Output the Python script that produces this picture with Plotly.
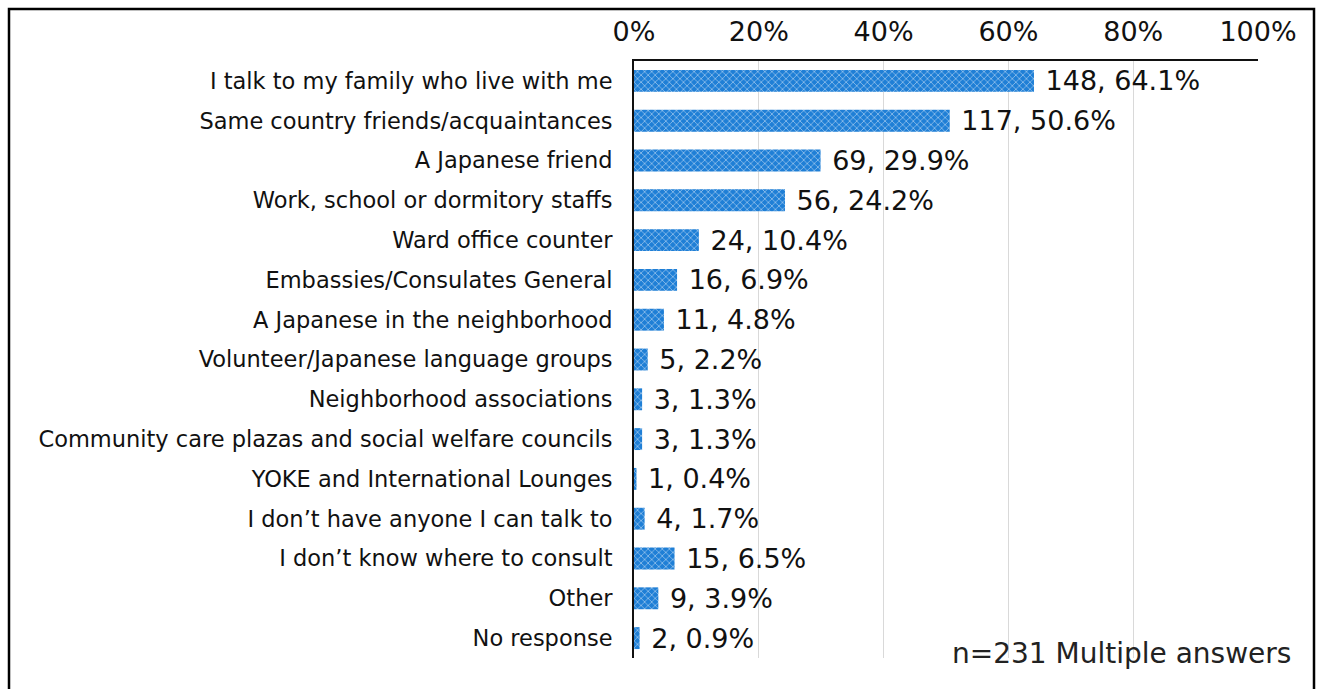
import plotly.graph_objects as go

categories = [
    "I talk to my family who live with me",
    "Same country friends/acquaintances",
    "A Japanese friend",
    "Work, school or dormitory staffs",
    "Ward office counter",
    "Embassies/Consulates General",
    "A Japanese in the neighborhood",
    "Volunteer/Japanese language groups",
    "Neighborhood associations",
    "Community care plazas and social welfare councils",
    "YOKE and International Lounges",
    "I don\u2019t have anyone I can talk to",
    "I don\u2019t know where to consult",
    "Other",
    "No response",
]
counts = [148, 117, 69, 56, 24, 16, 11, 5, 3, 3, 1, 4, 15, 9, 2]
percents = [64.1, 50.6, 29.9, 24.2, 10.4, 6.9, 4.8, 2.2, 1.3, 1.3, 0.4, 1.7, 6.5, 3.9, 0.9]
tick_vals = [0, 20, 40, 60, 80, 100]
tick_text = ["0%", "20%", "40%", "60%", "80%", "100%"]
note = "n=231 Multiple answers"

labels = [f"\u00a0{c}, {p}%" for c, p in zip(counts, percents)]
FONT = "DejaVu Sans"

fig = go.Figure(go.Bar(
    y=categories, x=percents, orientation="h",
    text=labels, textposition="outside", cliponaxis=False, constraintext="none",
    textfont=dict(family=FONT, size=27, color="#111111"),
    marker=dict(
        color="#1f7fd6",
        line=dict(width=0),
        pattern=dict(shape="x", fgcolor="#ffffff", bgcolor="#1f7fd6", size=5, solidity=0.3),
    ),
))

W, H = 1317, 689
L, R, T, B = 634, 59, 61, 31
pw, ph = W - L - R, H - T - B

def px2x(px):
    return (px - L) / pw

def py2y(py):
    return (H - B - py) / ph

fig.update_layout(
    width=W, height=H,
    margin=dict(l=L, r=R, t=T, b=B),
    paper_bgcolor="white", plot_bgcolor="white",
    bargap=0.45, showlegend=False,
    font=dict(family=FONT, color="#111111"),
    xaxis=dict(
        range=[0, 100], side="top", tickvals=tick_vals, ticktext=tick_text,
        tickfont=dict(family=FONT, size=27, color="#111111"),
        ticklabelstandoff=7,
        showgrid=True, gridcolor="#d9d9d9", gridwidth=1,
        showline=True, linecolor="#111111", linewidth=2,
        zeroline=False, ticks="", fixedrange=True,
    ),
    yaxis=dict(
        categoryorder="array", categoryarray=categories, autorange="reversed",
        tickfont=dict(family=FONT, size=22.5, color="#111111"),
        ticklabelstandoff=15,
        showline=True, linecolor="#111111", linewidth=2,
        ticks="", showgrid=False,
    ),
    shapes=[dict(
        type="rect", xref="paper", yref="paper",
        x0=px2x(9), x1=px2x(1314), y0=py2y(9), y1=py2y(700),
        line=dict(color="#000000", width=2.5), fillcolor="rgba(0,0,0,0)", layer="above",
    )],
    annotations=[dict(
        text=note, xref="paper", yref="paper",
        x=px2x(1293), y=py2y(653), xanchor="right", yanchor="middle",
        showarrow=False, font=dict(family=FONT, size=28, color="#222222"),
    )],
)

fig.write_html(
    "out.html",
    config={"displayModeBar": False},
    post_script="document.body.style.margin='0px';document.body.style.padding='0px';",
)
